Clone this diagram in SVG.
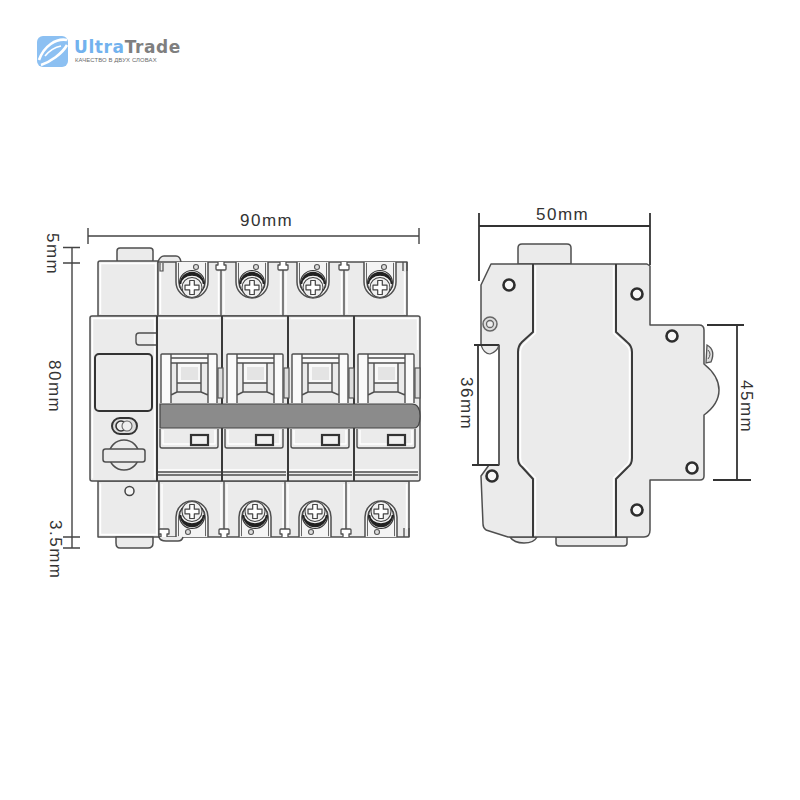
<svg xmlns="http://www.w3.org/2000/svg" width="800" height="800" viewBox="0 0 800 800">
<style>
text{font-family:"Liberation Sans",Arial,sans-serif}
.dimt{font-size:17px;letter-spacing:1.5px;fill:#333}
.dim{fill:none;stroke:#444;stroke-width:1.4}
.dimb{fill:none;stroke:#333;stroke-width:1.8}
.s{fill:#ebebeb;stroke:#4f4f4f;stroke-width:1.5;stroke-linejoin:round}
.l{fill:none;stroke:#4f4f4f;stroke-width:1.4;stroke-linejoin:round}
.th{fill:none;stroke:#3a3a3a;stroke-width:2;stroke-linejoin:round}
.in{fill:none;stroke:#fff;stroke-width:1.4;stroke-linejoin:round}
</style>
<defs>
<g id="screw">
<path d="M-16 0V20A16 16 0 0 0 16 20V0" fill="#f4f4f4" stroke="#4f4f4f" stroke-width="1.5"/>
<path d="M-13.500 0.800V20A13.500 13.500 0 0 0 13.500 20V0.800" fill="none" stroke="#666" stroke-width="1"/>
<circle cx="4" cy="5" r="2.500" fill="#ddd" stroke="#555" stroke-width="1.100"/>
<circle cx="0" cy="21" r="12.500" fill="#f4f4f4" stroke="#333" stroke-width="1.200"/>
<path d="M-11.500 22A11.500 11.500 0 0 1 11.500 22A11.500 9 0 0 0 -11.500 22Z" fill="#222" stroke="#222" stroke-width="1.500"/>
<circle cx="0" cy="25.500" r="10" fill="#f0f0f0" stroke="#444" stroke-width="1.100"/>
<path d="M-2.300 18.500h4.600v4.700h4.700v4.600h-4.700v4.700h-4.600v-4.700h-4.700v-4.600h4.700z" fill="#fff" stroke="#444" stroke-width="1.200" stroke-linejoin="round"/>
</g>
<g id="handle">
<path d="M0 0H56V49H0Z" fill="#fafafa"/>
<path d="M10 9H47V49H10Z" fill="#ebebeb"/>
<path d="M16 9H40V29H16Z" fill="#f8f8f8"/>
<path d="M20 13H37V26H20Z" fill="#e4e4e4"/>
<path class="l" d="M0 49V1Q0 0 1 0H55Q56 0 56 1V49M10 0V49M47 0V49M10 4H47M10 9H47M16 9V38M40 9V38M16 29H40M16 38H40M16 38L10 41V49M40 38L47 41V49"/>
<rect x="57" y="14" width="5" height="30" fill="#ddd" stroke="#555" stroke-width="1.200"/>
</g>
<g id="lower">
<path class="in" d="M3 1V15H55V1"/>
<path class="l" d="M0 0V17Q0 19 2 19H56Q58 19 58 17V0"/>
<path class="in" d="M-2 41H61"/>
<path class="l" d="M-2 43H61M-2 46H61"/>
<rect x="31" y="6" width="17" height="10" fill="#f0f0f0" stroke="#333" stroke-width="2.200"/>
</g>
<path id="notch" d="M-3 0V3H-5V7Q-5 8-4 8H4Q5 8 5 7V3H3V0" fill="#fff" stroke="#4f4f4f" stroke-width="1.300" stroke-linejoin="round"/>
</defs>
<rect width="800" height="800" fill="#fff"/>

<g id="logo">
<rect x="37" y="36" width="31" height="31" rx="6" fill="#8cc0f2"/>
<path d="M39 60C44 46 56 38 67 40M41 65C50 62 62 54 67 45" fill="none" stroke="#fff" stroke-width="2.600"/>
<path d="M45 56C50 50 56 47 61 46" fill="none" stroke="#fff" stroke-width="1.600"/>
<text x="74" y="52.500" font-size="17" font-weight="700" letter-spacing=".6" style="font-family:'DejaVu Sans',sans-serif" fill="#7f7f7f"><tspan fill="#72b2ee">Ultra</tspan>Trade</text>
<text x="75" y="62" font-size="5.900" letter-spacing=".12" fill="#6a6a6a">КАЧЕСТВО В ДВУХ СЛОВАХ</text>
</g>

<g id="front-view">
<rect class="s" x="117" y="248" width="36" height="15" rx="3"/>
<path class="s" d="M158 262Q160 256 164 256H176Q180 256 181 262"/>
<path class="s" d="M98 316V263Q98 261 100 261H158V316Z"/>
<path class="s" d="M158 262H407V316H158Z"/>
<path class="in" d="M100.500 314V263.500H155.500V314M160.500 314V265M218.500 314V272M224 314V272M280.500 314V272M286 314V272M341.500 314V272M347 314V272M404.500 314V272"/>
<path class="l" d="M221 268V316M283 268V316M344 268V316"/>
<use href="#notch" x="221" y="262"/><use href="#notch" x="283" y="262"/><use href="#notch" x="344" y="262"/>
<path d="M403 262V271M407 262V271" fill="none" stroke="#4f4f4f" stroke-width="1.300"/>
<path d="M160 263V271h3v-8" fill="none" stroke="#4f4f4f" stroke-width="1.200"/>
<use href="#screw" x="192" y="262"/><use href="#screw" x="252" y="262"/><use href="#screw" x="313" y="262"/><use href="#screw" x="380" y="262"/>

<path class="s" d="M98 481V537H159V481Z"/>
<path class="s" d="M159 481H409V537H159Z"/>
<path class="in" d="M100.500 483.500V534.500H156.500V483.500M162 484V529M221 484V529M227 484V529M283 484V529M288 484V529M344 484V529M349 484V529M406.500 484V529"/>
<path class="l" d="M224 481V530M285 481V530M346 481V530"/>
<g transform="translate(0,537) scale(1,-1)"><use href="#notch" x="224" y="0"/><use href="#notch" x="285" y="0"/><use href="#notch" x="346" y="0"/><use href="#notch" x="164" y="0"/></g>
<path d="M404 537V528M409 537V528" fill="none" stroke="#4f4f4f" stroke-width="1.300"/>
<use href="#screw" transform="translate(192,537) scale(-1,-1)"/><use href="#screw" transform="translate(255,537) scale(-1,-1)"/><use href="#screw" transform="translate(315,537) scale(-1,-1)"/><use href="#screw" transform="translate(381,537) scale(-1,-1)"/>
<path class="s" d="M116 537V543Q116 548 120 548H148Q153 548 153 543V537Z"/>
<path class="s" d="M159 537Q160 541 166 541H178Q182 541 183 537"/>

<path class="s" d="M90 318Q90 316 92 316H418Q420 316 420 318V479Q420 481 418 481H92Q90 481 90 479Z"/>
<path class="in" d="M92.500 478.500V318.500H154.500V478.500M159.500 318.500H219.500M224.500 318.500H285.500M290.500 318.500H351.500M356.500 318.500H417.500V350"/>
<g id="panel">
<path class="l" d="M156 333H139Q136 333 136 336V342Q136 345 139 345H156"/>
<rect x="95" y="354" width="57" height="57" rx="4" fill="#ebebeb" stroke="#333" stroke-width="2"/>
<rect x="112" y="418" width="25" height="16" rx="8" fill="#ddd" stroke="#333" stroke-width="2"/>
<circle cx="121" cy="426" r="5" fill="#eee" stroke="#333" stroke-width="1.600"/>
<circle cx="127" cy="426" r="5" fill="#eee" stroke="#666" stroke-width="1.100"/>
<circle class="s" cx="124" cy="455" r="15"/>
<rect class="s" x="103" y="449" width="42" height="13" rx="2.500"/>
<circle cx="129.500" cy="491" r="4.500" fill="#f4f4f4" stroke="#444" stroke-width="1.500"/>
</g>
<path class="th" d="M157 316V481M222 316V481M288 316V481M354 316V481"/>
<use href="#handle" x="161" y="354"/><use href="#handle" x="227" y="354"/><use href="#handle" x="292" y="354"/><use href="#handle" x="358" y="354"/>
<use href="#lower" x="160" y="429"/><use href="#lower" x="225" y="429"/><use href="#lower" x="291" y="429"/><use href="#lower" x="357" y="429"/>
<path d="M160 404H412Q420 404 420 416Q420 428 414 428H160Z" fill="#8b8b8b" stroke="#444" stroke-width="1.200"/>
</g>

<g id="side-view">
<path class="s" d="M518 264V248Q518 244 522 244H567Q571 244 571 248V264Z"/>
<path class="s" d="M510 537Q514 543 524 543Q534 543 537 537Z"/>
<path class="s" d="M556 537V543Q556 546 559 546H624Q627 546 627 543V537Z"/>
<path d="M707 345Q716 350 711 362L706 363Z" fill="#ddd" stroke="#555" stroke-width="1.300"/>
<path d="M708 350Q712 354 708 359" fill="none" stroke="#555" stroke-width="1"/>
<path class="s" d="M491 264H647L650 266V325H699Q704 325 704 330V364Q719 376 719 390Q719 404 704 415V476Q704 480 700 480H650V530Q650 537 644 537H508L486 530Q483 528 483 524L481 476L489 465H499V345H481V285Z"/>
<path class="in" d="M535.500 266V333L524.500 343.500Q520.500 347 520.500 352V458Q520.500 463 524.500 466L535.500 478V535M613.500 266V333L624.500 343.500Q629.500 347 629.500 352V458Q629.500 463 625.500 466L613.500 478V535"/>
<path class="th" stroke-width="1.800" d="M533 264V332L522 342Q518 346 518 352V458Q518 464 522 467L533 479V537M616 264V332L627 342Q632 346 632 352V458Q632 464 628 467L616 479V537"/>
<g fill="#f7f7f7" stroke="#2d2d2d" stroke-width="2.600">
<circle cx="509" cy="285" r="5.500"/><circle cx="637" cy="294" r="5.500"/><circle cx="492" cy="476" r="5.500"/><circle cx="637" cy="510" r="5.500"/><circle cx="672" cy="336" r="5.500"/><circle cx="692" cy="468" r="5.500"/>
</g>
<circle cx="490" cy="324" r="7" fill="#ddd" stroke="#666" stroke-width="1.500"/>
<circle cx="490" cy="324" r="3.500" fill="#eee" stroke="#666" stroke-width="1.300"/>
<path d="M481 345Q484 354 490 354Q497 352 499 345" fill="#ebebeb" stroke="#555" stroke-width="1.200"/>
</g>

<g id="connectors">
<path class="dim" d="M88 228V244M88 236H419M419 228V244M63 247.500H80M63 263H80M72 247.500V548M63 537H80M63 548H80"/>
<path class="dimb" d="M479 213V281M650 213V265M479 226H650M474 345H499M472 465H499M478 345V465M707 325H744M713 480H751M737 325V480"/>
<path d="M499 345V465" fill="none" stroke="#555" stroke-width="1.300"/>
</g>

<g id="labels">
<text class="dimt" x="240" y="226">90mm</text>
<text class="dimt" x="536" y="219.500">50mm</text>
<text class="dimt" transform="translate(47,233) rotate(90)">5mm</text>
<text class="dimt" transform="translate(49,360) rotate(90)">80mm</text>
<text class="dimt" transform="translate(50,520) rotate(90)">3.5mm</text>
<text class="dimt" transform="translate(461,377) rotate(90)">36mm</text>
<text class="dimt" transform="translate(741,380) rotate(90)">45mm</text>
</g>
</svg>
